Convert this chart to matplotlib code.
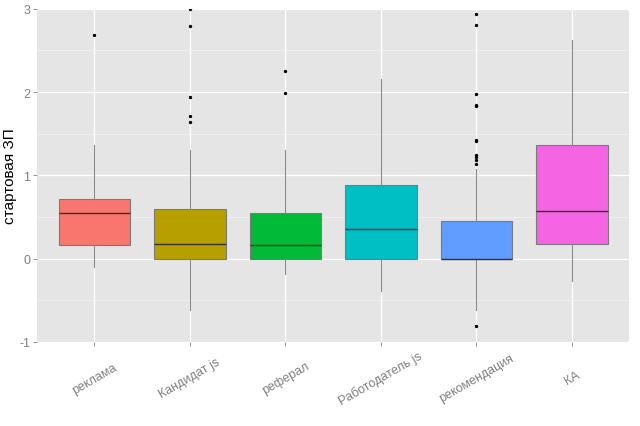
import matplotlib.pyplot as plt
import numpy as np

plt.rcParams['font.family'] = ['Liberation Sans', 'DejaVu Sans']
plt.rcParams['axes.unicode_minus'] = False

# values
sources = ['реклама', 'Кандидат js', 'реферал', 'Работодатель js', 'рекомендация', 'КА']
colors = ['#F8766D', '#B79F00', '#00BA38', '#00BFC4', '#619CFF', '#F564E3']
whislo = [-0.10, -0.62, -0.18, -0.39, -0.62, -0.27]
q1 = [0.16, 0.0, 0.0, 0.0, 0.0, 0.18]
med = [0.55, 0.18, 0.16, 0.35, 0.0, 0.57]
q3 = [0.72, 0.60, 0.55, 0.89, 0.45, 1.36]
whishi = [1.36, 1.30, 1.31, 2.16, 1.08, 2.63]
fliers = [
    [2.68],
    [3.0, 2.79, 1.94, 1.71, 1.64],
    [2.25, 1.99],
    [],
    [2.94, 2.80, 1.98, 1.85, 1.83, 1.43, 1.41, 1.25, 1.22, 1.18, 1.14, -0.81],
    [],
]

stats = []
for i in range(len(sources)):
    stats.append({'whislo': whislo[i], 'q1': q1[i], 'med': med[i], 'q3': q3[i],
                  'whishi': whishi[i], 'fliers': fliers[i]})

fig = plt.figure(figsize=(6.4, 4.27), dpi=100)
ax = fig.add_axes([0.058, 0.197, 0.925, 0.78])
ax.set_facecolor('#E5E5E5')

pos = np.arange(1, len(sources) + 1)
bp = ax.bxp(stats, positions=pos, widths=0.75, patch_artist=True, showcaps=False,
            boxprops=dict(edgecolor='#7a7a7a', linewidth=0.8),
            whiskerprops=dict(color='#8a8a8a', linewidth=0.8),
            medianprops=dict(color='#333333', linewidth=1.0),
            flierprops=dict(marker='o', markersize=1.4, markerfacecolor='black',
                            markeredgecolor='black', linestyle='none'),
            zorder=3)
for patch, c in zip(bp['boxes'], colors):
    patch.set_facecolor(c)

ax.set_xlim(0.4, 6.6)
ax.set_ylim(-1, 3)
ax.set_yticks([-1, 0, 1, 2, 3])
ax.set_yticks([-0.5, 0.5, 1.5, 2.5], minor=True)
ax.set_xticks(pos)
ax.set_xticklabels(sources, rotation=30, ha='center', va='center')
ax.grid(True, which='major', color='white', linewidth=0.9, zorder=0)
ax.grid(True, which='minor', axis='y', color='#F2F2F2', linewidth=0.6, zorder=0)
ax.set_axisbelow(True)
for s in ax.spines.values():
    s.set_visible(False)
ax.tick_params(axis='both', which='major', colors='#7F7F7F', labelsize=9, length=3, width=0.6)
ax.tick_params(axis='y', pad=2)
ax.tick_params(axis='x', pad=23)
ax.tick_params(axis='both', which='minor', length=0)
ax.set_ylabel('стартовая ЗП', fontsize=11, color='black')
ax.yaxis.set_label_coords(-0.034, 0.5)

fig.savefig('out.png', dpi=100)
